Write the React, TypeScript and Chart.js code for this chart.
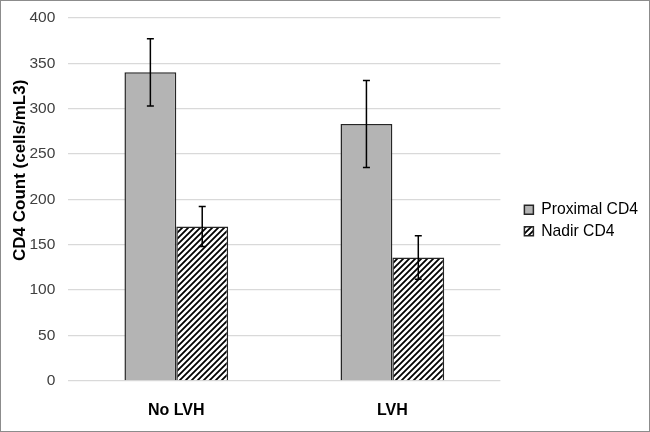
import React, { useEffect, useRef } from "react";
import { Chart, registerables } from "chart.js";

Chart.register(...registerables);

const categories = ["No LVH", "LVH"];
const seriesNames = ["Proximal CD4", "Nadir CD4"];
const proximalValues = [340, 283];
const proximalErrors = [37, 48];
const nadirValues = [170, 136];
const nadirErrors = [22, 24];
const yTicks = [0, 50, 100, 150, 200, 250, 300, 350, 400];

const FONT = "'Liberation Sans', Arial, sans-serif";

function makeHatch(): CanvasPattern | string {
  const size = 6;
  const c = document.createElement("canvas");
  c.width = size;
  c.height = size;
  const g = c.getContext("2d");
  if (!g) return "#000";
  g.fillStyle = "#ffffff";
  g.fillRect(0, 0, size, size);
  g.strokeStyle = "#000000";
  g.lineWidth = 1.8;
  g.beginPath();
  g.moveTo(-1, size + 1);
  g.lineTo(size + 1, -1);
  g.moveTo(-1, 1);
  g.lineTo(1, -1);
  g.moveTo(size - 1, size + 1);
  g.lineTo(size + 1, size - 1);
  g.stroke();
  const p = g.createPattern(c, "repeat");
  return p || "#000";
}

const errorBarPlugin = {
  id: "errorBars",
  afterDatasetsDraw(chart: any) {
    const ctx = chart.ctx;
    const yScale = chart.scales.y;
    chart.data.datasets.forEach((ds: any, di: number) => {
      const meta = chart.getDatasetMeta(di);
      const errs: number[] = ds.errors || [];
      meta.data.forEach((bar: any, i: number) => {
        const v = ds.data[i];
        const e = errs[i];
        const x = bar.x;
        const yTop = yScale.getPixelForValue(v + e);
        const yBot = yScale.getPixelForValue(v - e);
        ctx.save();
        ctx.strokeStyle = "#000";
        ctx.lineWidth = 1.5;
        ctx.beginPath();
        ctx.moveTo(x, yTop);
        ctx.lineTo(x, yBot);
        ctx.moveTo(x - 3.5, yTop);
        ctx.lineTo(x + 3.5, yTop);
        ctx.moveTo(x - 3.5, yBot);
        ctx.lineTo(x + 3.5, yBot);
        ctx.stroke();
        ctx.restore();
      });
    });
  },
};

const legendShift = {
  id: "legendShift",
  afterLayout(chart: any) {
    const lg = chart.legend;
    if (lg) {
      lg.left += 18;
      lg.right += 18;
      lg.top -= 3;
      lg.bottom -= 3;
    }
  },
};

const titleShift = {
  id: "titleShift",
  beforeDraw(chart: any) {
    const s = chart.scales.y;
    if (s && !s.__shifted) {
      const orig = s.drawTitle.bind(s);
      s.drawTitle = function () {
        const ctx = this.ctx;
        ctx.save();
        ctx.translate(0, -29);
        orig();
        ctx.restore();
      };
      s.__shifted = true;
    }
  },
};

export default function App() {
  const ref = useRef<HTMLCanvasElement | null>(null);
  useEffect(() => {
    document.body.style.margin = "0";
    if (!ref.current) return;
    const hatch = makeHatch();
    const chart = new Chart(ref.current, {
      type: "bar",
      data: {
        labels: categories,
        datasets: [
          {
            label: seriesNames[0],
            data: proximalValues,
            errors: proximalErrors,
            backgroundColor: "#b4b4b4",
            borderColor: "#262626",
            borderWidth: 1.5,
          } as any,
          {
            label: seriesNames[1],
            data: nadirValues,
            errors: nadirErrors,
            backgroundColor: hatch,
            borderColor: "#262626",
            borderWidth: 1.5,
          } as any,
        ],
      },
      options: {
        animation: false,
        responsive: true,
        maintainAspectRatio: false,
        layout: { padding: { top: 6, left: 9, right: 19, bottom: -9 } },
        datasets: { bar: { barPercentage: 1, categoryPercentage: 0.48 } },
        scales: {
          x: {
            grid: { display: false, drawTicks: false },
            border: { display: false },
            ticks: {
              padding: 20,
              color: "#000",
              font: { family: FONT, size: 16, weight: "bold" },
            },
          },
          y: {
            min: 0,
            max: 400,
            afterBuildTicks: (axis: any) => {
              axis.ticks = yTicks.map((v) => ({ value: v }));
            },
            grid: { color: "#d9d9d9", lineWidth: 1.3, drawTicks: false },
            border: { display: false },
            ticks: {
              padding: 13,
              color: "#404040",
              font: { family: FONT, size: 15.5, lineHeight: 0.5 },
            },
            title: {
              display: true,
              text: "CD4 Count (cells/mL3)",
              color: "#000",
              padding: { top: 0, bottom: -14 },
              font: { family: FONT, size: 17, weight: "bold" },
            },
          },
        },
        plugins: {
          legend: {
            position: "right",
            labels: {
              boxWidth: 9,
              boxHeight: 9,
              padding: 6,
              color: "#000",
              font: { family: FONT, size: 15.7 },
            },
          },
          tooltip: { enabled: false },
        },
      } as any,
      plugins: [errorBarPlugin, legendShift, titleShift],
    });
    chart.draw();
    return () => chart.destroy();
  }, []);
  return (
    <div
      style={{
        width: 650,
        height: 432,
        boxSizing: "border-box",
        border: "1px solid #8c8c8c",
        background: "#fff",
        position: "relative",
      }}
    >
      <div style={{ position: "relative", width: 648, height: 430 }}>
        <canvas ref={ref} />
      </div>
    </div>
  );
}
